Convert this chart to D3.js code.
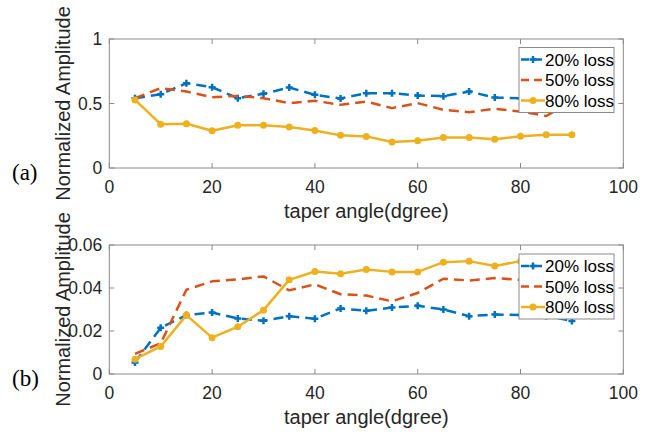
<!DOCTYPE html>
<html>
<head>
<meta charset="utf-8">
<script src="https://cdn.jsdelivr.net/npm/d3@7"></script>
<style>
  html, body { margin: 0; padding: 0; background: #fff; }
  svg { display: block; }
</style>
</head>
<body>
<svg id="chart" width="657" height="432"></svg>
<script>
// ---- data ----
const angles = [5,10,15,20,25,30,35,40,45,50,55,60,65,70,75,80,85,90];
const seriesNames = ["20% loss", "50% loss", "80% loss"];

// panel (a)
const loss20a = [0.541,0.572,0.657,0.626,0.541,0.575,0.624,0.567,0.539,0.580,0.580,0.562,0.557,0.593,0.546,0.541,0.550,0.560];
const loss50a = [0.541,0.619,0.593,0.549,0.559,0.541,0.503,0.521,0.490,0.515,0.464,0.503,0.451,0.433,0.459,0.438,0.403,0.520];
const loss80a = [0.528,0.340,0.343,0.289,0.332,0.332,0.317,0.291,0.253,0.245,0.201,0.211,0.237,0.237,0.222,0.247,0.258,0.258];

// panel (b)
const loss20b = [0.0054,0.0215,0.0274,0.0286,0.0258,0.0248,0.0269,0.0257,0.0305,0.0294,0.0309,0.0317,0.0300,0.0269,0.0277,0.0274,0.0270,0.0247];
const loss50b = [0.0094,0.0143,0.0392,0.0431,0.0440,0.0454,0.0389,0.0417,0.0371,0.0365,0.0338,0.0377,0.0443,0.0435,0.0446,0.0438,0.0440,0.0430];
const loss80b = [0.0069,0.0128,0.0274,0.0169,0.0220,0.0297,0.0438,0.0477,0.0466,0.0486,0.0475,0.0475,0.0520,0.0525,0.0502,0.0525,0.0520,0.0530];

const xTicks = [0,20,40,60,80,100];
const yTicksA = [0,0.5,1];
const yTickLabelsA = ["0","0.5","1"];
const yTicksB = [0,0.02,0.04,0.06];
const yTickLabelsB = ["0","0.02","0.04","0.06"];

const xLabel = "taper angle(dgree)";
const yLabel = "Normalized Amplitude";
const panelLabels = ["(a)", "(b)"];

// ---- style ----
const colors = ["#0072BD", "#D95319", "#EDB120"];
const axisColor = "#8a8a8a";
const textColor = "#262626";
const sansFont = "'Liberation Sans', Arial, Helvetica, sans-serif";
const serifFont = "'Liberation Serif', 'Times New Roman', serif";

const svg = d3.select("#chart");

function drawPanel(cfg) {
  const {top, bottom, yMax, yTicks, yTickLabels, data, panelLabel, legendTop} = cfg;
  const left = 109.3, right = 623.3;
  const x = d3.scaleLinear().domain([0,100]).range([left, right]);
  const y = d3.scaleLinear().domain([0,yMax]).range([bottom, top]);
  const g = svg.append("g");

  // ticks (inward on all 4 sides)
  const tl = 5;
  xTicks.forEach(t => {
    g.append("line").attr("x1", x(t)).attr("x2", x(t)).attr("y1", bottom).attr("y2", bottom - tl)
      .attr("stroke", axisColor).attr("stroke-width", 1);
    g.append("line").attr("x1", x(t)).attr("x2", x(t)).attr("y1", top).attr("y2", top + tl)
      .attr("stroke", axisColor).attr("stroke-width", 1);
    g.append("text").attr("x", x(t)).attr("y", bottom + 25).attr("text-anchor", "middle")
      .attr("font-family", sansFont).attr("font-size", 17.5).attr("fill", textColor).text(t);
  });
  yTicks.forEach((t, i) => {
    g.append("line").attr("x1", left).attr("x2", left + tl).attr("y1", y(t)).attr("y2", y(t))
      .attr("stroke", axisColor).attr("stroke-width", 1);
    g.append("line").attr("x1", right).attr("x2", right - tl).attr("y1", y(t)).attr("y2", y(t))
      .attr("stroke", axisColor).attr("stroke-width", 1);
    g.append("text").attr("x", left - 7).attr("y", y(t) + 6).attr("text-anchor", "end")
      .attr("font-family", sansFont).attr("font-size", 17.5).attr("fill", textColor).text(yTickLabels[i]);
  });

  // box
  g.append("rect").attr("x", left).attr("y", top).attr("width", right - left).attr("height", bottom - top)
    .attr("fill", "none").attr("stroke", axisColor).attr("stroke-width", 1);

  // series
  const line = d3.line().x(d => x(d[0])).y(d => y(d[1]));
  const dashes = ["10,6", "10,6", null];
  data.forEach((vals, si) => {
    const pts = angles.map((a, i) => [a, vals[i]]);
    const p = g.append("path").datum(pts).attr("d", line).attr("fill", "none")
      .attr("stroke", colors[si]).attr("stroke-width", 2.5).attr("stroke-linejoin", "round");
    if (dashes[si]) p.attr("stroke-dasharray", dashes[si]);
    if (si === 0) {
      pts.forEach(d => {
        g.append("path").attr("d", `M${x(d[0])-3.5},${y(d[1])}H${x(d[0])+3.5}M${x(d[0])},${y(d[1])-3.5}V${y(d[1])+3.5}`)
          .attr("stroke", colors[si]).attr("stroke-width", 2.5);
      });
    } else if (si === 2) {
      pts.forEach(d => {
        g.append("circle").attr("cx", x(d[0])).attr("cy", y(d[1])).attr("r", 3.5).attr("fill", colors[si]);
      });
    }
  });

  // legend
  const lx = 519, lw = 95, lh = 65;
  const lg = g.append("g");
  lg.append("rect").attr("x", lx).attr("y", legendTop).attr("width", lw).attr("height", lh)
    .attr("fill", "#fff").attr("stroke", axisColor).attr("stroke-width", 1);
  seriesNames.forEach((name, si) => {
    const cy = legendTop + 12 + si * 20.5;
    const l = lg.append("line").attr("x1", lx + 2).attr("x2", lx + 26).attr("y1", cy).attr("y2", cy)
      .attr("stroke", colors[si]).attr("stroke-width", 2.5);
    if (dashes[si]) l.attr("stroke-dasharray", "8,5");
    const mx = lx + 14;
    if (si === 0) {
      lg.append("path").attr("d", `M${mx-3.5},${cy}H${mx+3.5}M${mx},${cy-3.5}V${cy+3.5}`)
        .attr("stroke", colors[si]).attr("stroke-width", 2.5);
    } else if (si === 2) {
      lg.append("circle").attr("cx", mx).attr("cy", cy).attr("r", 3.5).attr("fill", colors[si]);
    }
    lg.append("text").attr("x", lx + 26).attr("y", cy + 6)
      .attr("font-family", sansFont).attr("font-size", 17).attr("fill", "#000").text(name);
  });

  // axis labels
  g.append("text").attr("x", (left + right) / 2).attr("y", bottom + 50).attr("text-anchor", "middle")
    .attr("font-family", sansFont).attr("font-size", 20).attr("fill", textColor).text(xLabel);
  g.append("text").attr("transform", `translate(70,${(top + bottom) / 2}) rotate(-90)`)
    .attr("text-anchor", "middle").attr("font-family", sansFont).attr("font-size", 20)
    .attr("fill", textColor).text(yLabel);
  // panel label
  g.append("text").attr("x", 12).attr("y", bottom + 12).attr("font-family", serifFont)
    .attr("font-size", 23).attr("fill", "#000").text(panelLabel);
}

drawPanel({top: 39, bottom: 168, yMax: 1, yTicks: yTicksA, yTickLabels: yTickLabelsA,
  data: [loss20a, loss50a, loss80a], panelLabel: panelLabels[0], legendTop: 47.5});
drawPanel({top: 245, bottom: 374, yMax: 0.06, yTicks: yTicksB, yTickLabels: yTickLabelsB,
  data: [loss20b, loss50b, loss80b], panelLabel: panelLabels[1], legendTop: 254});
</script>
</body>
</html>
